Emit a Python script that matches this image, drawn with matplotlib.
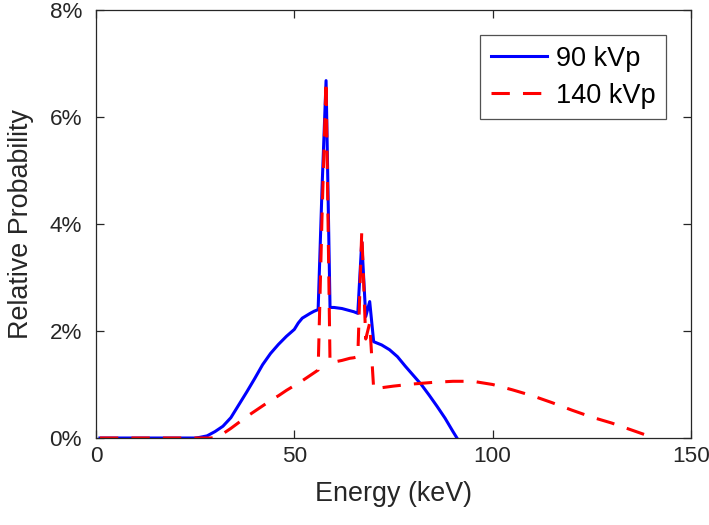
import matplotlib
matplotlib.use("Agg")
import matplotlib.pyplot as plt
from matplotlib.ticker import FuncFormatter

plt.rcParams['font.family'] = ['Liberation Sans', 'DejaVu Sans']

# energy (keV) and relative probability (%)
e90 = [1, 10, 20, 25, 26, 28, 30, 32, 34, 36, 38, 40, 42, 44, 46, 48, 50, 51,
       52, 54, 55, 56, 57, 58, 59, 60, 61, 62, 63, 64, 65, 66, 67, 68, 69, 70,
       72, 74, 76, 78, 80, 82, 84, 86, 88, 90, 91]
p90 = [0, 0, 0, 0, 0.01, 0.04, 0.12, 0.22, 0.38, 0.62, 0.86, 1.11, 1.37, 1.58,
       1.75, 1.90, 2.03, 2.15, 2.24, 2.33, 2.37, 2.40, 4.70, 6.68, 2.44, 2.44,
       2.43, 2.42, 2.40, 2.38, 2.36, 2.33, 3.67, 2.27, 2.55, 1.80,
       1.74, 1.65, 1.52, 1.34, 1.17, 1.00, 0.80, 0.59, 0.37, 0.12, 0]

e140 = [1, 10, 20, 29, 30, 32, 34, 36, 38, 40, 42, 44, 46, 48, 50, 52, 54, 55,
        56, 57, 58, 59, 60, 62, 64, 65, 66, 67, 68, 69, 70, 75, 80, 85, 90, 95,
        100, 105, 110, 115, 120, 125, 130, 135, 140, 141]
p140 = [0, 0, 0, 0, 0.01, 0.08, 0.18, 0.29, 0.40, 0.50, 0.60, 0.70, 0.79, 0.89,
        0.98, 1.07, 1.17, 1.22, 1.27, 4.20, 6.68, 1.40, 1.42, 1.45, 1.49, 1.50,
        1.52, 3.87, 1.85, 2.15, 0.92, 0.97, 1.01, 1.04, 1.06, 1.06,
        1.00, 0.90, 0.79, 0.66, 0.52, 0.39, 0.28, 0.15, 0.02, 0]

labels = ["90 kVp", "140 kVp"]
xticks = [0, 50, 100, 150]
yticks = [0, 2, 4, 6, 8]

ink = (0.15, 0.15, 0.15)

fig = plt.figure(figsize=(7.09, 5.25), dpi=100)
ax = fig.add_axes([0.1354, 0.1657, 0.8392, 0.8153])

ax.plot(e90, p90, color=(0, 0, 1), lw=2.2, label=labels[0])
ax.plot(e140, p140, color=(1, 0, 0), lw=2.2, linestyle=(0, (6.0, 4.3)),
        label=labels[1])

ax.set_xlim(0, 150)
ax.set_ylim(0, 8)
ax.set_xticks(xticks)
ax.set_yticks(yticks)
ax.yaxis.set_major_formatter(FuncFormatter(lambda v, p: "%d%%" % v))

for s in ax.spines.values():
    s.set_color(ink)
    s.set_linewidth(0.9)
ax.tick_params(direction='in', length=6, width=0.9, colors=ink,
               labelsize=16.2, top=True, right=True)
ax.tick_params(axis='y', pad=10)
ax.tick_params(axis='x', pad=6)

ax.set_xlabel("Energy (keV)", fontsize=19.4, color=ink, labelpad=10)
ax.set_ylabel("Relative Probability", fontsize=19.4, color=ink, labelpad=11)

leg = ax.legend(loc='upper right', bbox_to_anchor=(0.958, 0.9416),
                fontsize=19.5, frameon=True, fancybox=False, handlelength=2.1,
                handletextpad=0.3, borderpad=0.4, labelspacing=0.4,
                borderaxespad=0)
leg.get_frame().set_edgecolor(ink)
leg.get_frame().set_linewidth(0.9)

fig.savefig("out.png", dpi=100)
